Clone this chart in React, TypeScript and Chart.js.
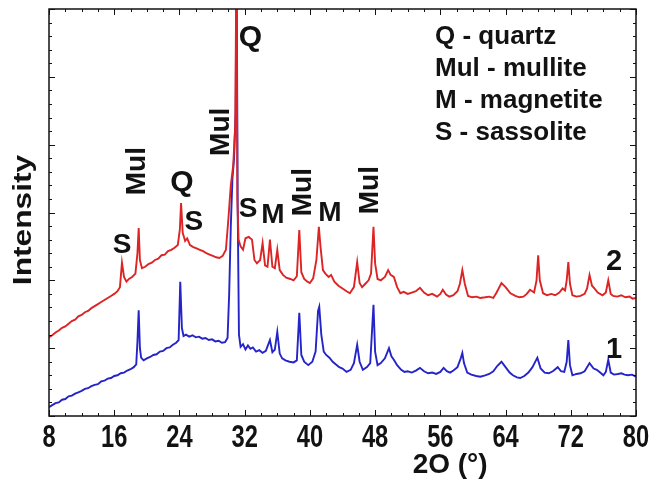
import React, { useEffect, useRef } from 'react';
import { Chart, registerables } from 'chart.js';

Chart.register(...registerables);

// ---- axis ticks ----
const X_TICKS = [8, 16, 24, 32, 40, 48, 56, 64, 72, 80];
const X_MINOR_STEP = 2;
const Y_MIN = 0;
const Y_MAX = 6;
const Y_MAJOR_STEP = 1;
const Y_MINOR_STEP = 0.2;

// ---- sample 1 (blue, lower trace): [2θ, intensity] ----
const SAMPLE_1: [number, number][] = [
  [8.0, 0.13], [8.4, 0.16], [8.8, 0.19], [9.2, 0.2], [9.6, 0.24], [10.0, 0.25], [10.4, 0.29], [10.8, 0.3],
  [11.2, 0.33], [11.6, 0.35], [12.0, 0.37], [12.4, 0.4], [12.8, 0.41], [13.2, 0.44], [13.6, 0.46], [14.0, 0.47],
  [14.4, 0.51], [14.8, 0.52], [15.2, 0.55], [15.6, 0.56], [16.0, 0.59], [16.4, 0.6], [16.8, 0.63], [17.2, 0.64],
  [17.6, 0.67], [18.0, 0.69], [18.4, 0.72], [18.7, 0.76], [18.85, 1.1], [19.0, 1.56], [19.15, 1.0], [19.3, 0.86],
  [19.6, 0.82], [20.0, 0.85], [20.4, 0.87], [20.8, 0.9], [21.2, 0.91], [21.6, 0.95], [22.0, 0.96], [22.4, 1.0],
  [22.8, 1.01], [23.2, 1.05], [23.6, 1.08], [23.9, 1.12], [24.1, 1.98], [24.3, 1.3], [24.5, 1.18], [24.8, 1.2],
  [25.2, 1.17], [25.6, 1.19], [26.0, 1.16], [26.4, 1.17], [26.8, 1.14], [27.2, 1.15], [27.6, 1.12], [28.0, 1.13],
  [28.4, 1.1], [28.8, 1.11], [29.2, 1.08], [29.6, 1.09], [29.9, 1.15], [30.1, 1.8], [30.3, 2.8], [30.5, 3.5],
  [30.7, 3.8], [30.9, 4.5], [31.0, 7.0], [31.15, 3.0], [31.3, 1.2], [31.5, 1.02], [31.8, 1.06], [32.1, 0.98],
  [32.4, 1.04], [32.7, 0.99], [33.0, 1.01], [33.4, 0.95], [33.8, 0.97], [34.2, 0.93], [34.6, 0.96], [35.1, 1.12],
  [35.4, 0.94], [35.7, 0.98], [36.0, 1.24], [36.3, 0.92], [36.6, 0.85], [37.0, 0.82], [37.5, 0.8], [38.0, 0.79],
  [38.4, 0.82], [38.7, 1.52], [38.95, 0.9], [39.3, 0.8], [39.8, 0.75], [40.3, 0.8], [40.7, 0.95], [41.0, 1.55],
  [41.15, 1.61], [41.4, 1.2], [41.7, 0.95], [42.0, 0.9], [42.4, 0.86], [42.8, 0.8], [43.2, 0.76], [43.6, 0.72],
  [44.0, 0.7], [44.5, 0.65], [45.0, 0.68], [45.4, 0.78], [45.8, 1.05], [46.1, 0.8], [46.5, 0.68], [47.0, 0.72],
  [47.4, 0.78], [47.8, 1.64], [48.0, 0.95], [48.3, 0.75], [48.7, 0.78], [49.2, 0.85], [49.7, 1.0], [50.0, 0.88],
  [50.3, 0.83], [50.7, 0.75], [51.2, 0.68], [51.6, 0.65], [52.0, 0.66], [52.5, 0.64], [53.0, 0.67], [53.5, 0.71],
  [54.0, 0.66], [54.5, 0.63], [55.0, 0.64], [55.5, 0.62], [56.0, 0.65], [56.4, 0.71], [56.8, 0.66], [57.2, 0.64],
  [57.6, 0.67], [58.1, 0.72], [58.5, 0.85], [58.7, 0.93], [58.9, 0.78], [59.3, 0.64], [59.8, 0.61], [60.4, 0.59],
  [60.9, 0.58], [61.5, 0.6], [62.0, 0.62], [62.5, 0.66], [63.0, 0.74], [63.5, 0.8], [64.0, 0.72], [64.5, 0.64],
  [64.9, 0.6], [65.4, 0.57], [65.8, 0.56], [66.3, 0.59], [66.8, 0.64], [67.3, 0.72], [67.9, 0.86], [68.3, 0.7],
  [68.8, 0.64], [69.3, 0.63], [69.8, 0.66], [70.4, 0.72], [70.8, 0.66], [71.2, 0.65], [71.5, 0.8], [71.7, 1.12],
  [71.9, 0.75], [72.2, 0.6], [72.7, 0.62], [73.2, 0.63], [73.7, 0.66], [74.3, 0.78], [74.8, 0.7], [75.2, 0.68],
  [75.6, 0.64], [76.0, 0.6], [76.3, 0.65], [76.6, 0.83], [76.9, 0.64], [77.3, 0.61], [77.8, 0.62], [78.2, 0.63],
  [78.6, 0.61], [79.0, 0.6], [79.5, 0.61], [80.0, 0.58],
];

// ---- sample 2 (red, upper trace): [2θ, intensity] ----
const SAMPLE_2: [number, number][] = [
  [8.0, 1.16], [8.4, 1.19], [8.8, 1.23], [9.2, 1.26], [9.6, 1.3], [10.0, 1.32], [10.4, 1.36], [10.8, 1.4],
  [11.2, 1.42], [11.6, 1.47], [12.0, 1.49], [12.4, 1.53], [12.8, 1.55], [13.2, 1.59], [13.6, 1.62], [14.0, 1.65],
  [14.4, 1.68], [14.8, 1.71], [15.2, 1.74], [15.6, 1.77], [16.0, 1.8], [16.4, 1.84], [16.7, 1.9], [16.95, 2.26],
  [17.2, 2.05], [17.5, 1.98], [17.8, 2.02], [18.2, 2.05], [18.6, 2.1], [18.85, 2.4], [19.0, 2.77], [19.15, 2.3],
  [19.4, 2.18], [19.8, 2.2], [20.2, 2.24], [20.6, 2.26], [21.0, 2.3], [21.4, 2.32], [21.8, 2.37], [22.2, 2.38],
  [22.6, 2.43], [23.0, 2.45], [23.4, 2.48], [23.8, 2.52], [24.05, 2.75], [24.2, 3.14], [24.4, 2.7], [24.7, 2.58],
  [24.95, 2.62], [25.3, 2.52], [25.7, 2.49], [26.1, 2.47], [26.5, 2.45], [26.9, 2.43], [27.3, 2.4], [27.7, 2.38],
  [28.1, 2.36], [28.5, 2.34], [28.9, 2.33], [29.3, 2.36], [29.7, 2.45], [30.0, 2.9], [30.3, 3.4], [30.6, 3.7],
  [30.85, 4.3], [31.0, 7.0], [31.1, 3.2], [31.25, 2.6], [31.5, 2.5], [31.8, 2.45], [32.1, 2.62], [32.5, 2.64],
  [32.9, 2.6], [33.2, 2.3], [33.5, 2.25], [33.9, 2.3], [34.2, 2.55], [34.5, 2.22], [34.8, 2.2], [35.1, 2.6],
  [35.4, 2.2], [35.7, 2.18], [36.0, 2.45], [36.3, 2.15], [36.7, 2.08], [37.1, 2.04], [37.6, 2.02], [38.0, 2.0],
  [38.4, 2.06], [38.7, 2.74], [38.95, 2.12], [39.3, 2.02], [39.7, 1.98], [40.0, 1.96], [40.4, 2.03], [40.8, 2.3],
  [41.1, 2.79], [41.3, 2.5], [41.6, 2.15], [41.9, 2.1], [42.3, 2.05], [42.6, 2.08], [43.0, 1.98], [43.5, 1.92],
  [44.0, 1.88], [44.5, 1.84], [44.9, 1.81], [45.4, 1.9], [45.8, 2.27], [46.1, 1.96], [46.4, 1.9], [46.8, 1.95],
  [47.2, 2.0], [47.5, 2.1], [47.8, 2.79], [48.0, 2.25], [48.3, 2.02], [48.7, 2.0], [49.2, 2.05], [49.6, 2.15],
  [49.9, 2.08], [50.3, 2.05], [50.7, 1.9], [51.1, 1.81], [51.5, 1.83], [52.0, 1.8], [52.5, 1.82], [53.0, 1.84],
  [53.5, 1.89], [54.0, 1.82], [54.5, 1.78], [55.0, 1.8], [55.6, 1.76], [56.0, 1.8], [56.3, 1.86], [56.7, 1.79],
  [57.1, 1.76], [57.6, 1.78], [58.1, 1.84], [58.4, 1.95], [58.7, 2.15], [59.0, 1.95], [59.4, 1.77], [59.9, 1.75],
  [60.4, 1.76], [60.9, 1.74], [61.5, 1.75], [62.0, 1.76], [62.5, 1.74], [62.9, 1.82], [63.5, 1.96], [64.0, 1.9],
  [64.6, 1.81], [65.2, 1.77], [65.7, 1.75], [66.2, 1.76], [66.6, 1.8], [67.0, 1.86], [67.5, 1.82], [67.8, 2.0],
  [68.0, 2.37], [68.2, 2.0], [68.6, 1.81], [69.1, 1.78], [69.6, 1.8], [70.1, 1.78], [70.6, 1.82], [71.0, 1.88],
  [71.3, 1.85], [71.5, 2.0], [71.7, 2.27], [71.9, 1.95], [72.2, 1.78], [72.7, 1.76], [73.2, 1.77], [73.7, 1.8],
  [74.0, 1.88], [74.3, 2.08], [74.6, 1.92], [74.9, 1.88], [75.3, 1.82], [75.9, 1.78], [76.3, 1.82], [76.6, 2.0],
  [76.9, 1.8], [77.2, 1.77], [77.7, 1.76], [78.2, 1.78], [78.7, 1.75], [79.2, 1.76], [79.6, 1.73], [80.0, 1.74],
];

// ---- peak annotations ----
const PEAK_LABELS = ['S', 'Mul', 'Q', 'S', 'Mul', 'Q', 'S', 'M', 'Mul', 'M', 'Mul'];
const PEAK_LABEL_X = [16.95, 18.79, 24.31, 25.78, 29.16, 32.71, 32.41, 35.47, 39.15, 42.47, 47.37];
const PEAK_LABEL_Y = [2.51, 3.61, 3.44, 2.85, 4.19, 5.58, 3.05, 2.96, 3.3, 2.99, 3.33];
const PEAK_LABEL_VERTICAL = [false, true, false, false, true, false, false, false, true, false, true];

// ---- phase key ----
const PHASE_KEY = ['Q - quartz', 'Mul - mullite', 'M - magnetite', 'S - sassolite'];
const PHASE_KEY_X = 55.35;
const PHASE_KEY_Y = [5.59, 5.12, 4.65, 4.18];

// ---- curve numbers ----
const CURVE_NAMES = ['1', '2'];
const CURVE_NAME_X = [77.3, 77.3];
const CURVE_NAME_Y = [0.97, 2.27];

// ---- axis titles ----
const X_TITLE = '2O (\u00B0)';
const X_TITLE_POS: [number, number] = [57.2, -0.72];
const Y_TITLE = 'Intensity';
const Y_TITLE_POS: [number, number] = [4.93, 2.89];

const FAMILY = '"Liberation Sans", Arial, Helvetica, sans-serif';
const INK = '#121212';

const decorPlugin = {
  id: 'xrdDecor',
  afterDraw(chart: any) {
    const { ctx, chartArea: a } = chart;
    const xs = chart.scales.x;
    const ys = chart.scales.y;
    ctx.save();

    // frame
    ctx.strokeStyle = INK;
    ctx.lineWidth = 1.5;
    ctx.strokeRect(a.left, a.top, a.right - a.left, a.bottom - a.top);

    // inward ticks
    ctx.lineWidth = 1;
    const seg = (x1: number, y1: number, x2: number, y2: number) => {
      ctx.beginPath();
      ctx.moveTo(x1, y1);
      ctx.lineTo(x2, y2);
      ctx.stroke();
    };
    const xMin = X_TICKS[0];
    const xMax = X_TICKS[X_TICKS.length - 1];
    const nx = Math.round((xMax - xMin) / X_MINOR_STEP);
    for (let i = 0; i <= nx; i++) {
      const v = xMin + i * X_MINOR_STEP;
      const px = Math.round(xs.getPixelForValue(v)) + 0.5;
      const len = X_TICKS.includes(v) ? 6 : 3;
      seg(px, a.bottom, px, a.bottom - len);
      seg(px, a.top, px, a.top + len);
    }
    const ny = Math.round((Y_MAX - Y_MIN) / Y_MINOR_STEP);
    const perMajor = Math.round(Y_MAJOR_STEP / Y_MINOR_STEP);
    for (let i = 0; i <= ny; i++) {
      const v = Y_MIN + i * Y_MINOR_STEP;
      const py = Math.round(ys.getPixelForValue(v)) + 0.5;
      const len = i % perMajor === 0 ? 6 : 3;
      seg(a.left, py, a.left + len, py);
      seg(a.right, py, a.right - len, py);
    }

    ctx.fillStyle = INK;
    ctx.textAlign = 'center';
    ctx.textBaseline = 'middle';

    // x tick labels (tall, condensed bold digits), taken from the scale's ticks
    ctx.font = `bold 32px ${FAMILY}`;
    xs.ticks.forEach((t: any) => {
      ctx.save();
      ctx.translate(xs.getPixelForValue(t.value), a.bottom + 22);
      ctx.scale(0.74, 1);
      ctx.fillText(String(t.value), 0, 0);
      ctx.restore();
    });

    // peak labels
    PEAK_LABELS.forEach((t, i) => {
      const px = xs.getPixelForValue(PEAK_LABEL_X[i]);
      const py = ys.getPixelForValue(PEAK_LABEL_Y[i]);
      ctx.font = `bold ${t === 'Q' ? 30 : 28}px ${FAMILY}`;
      if (PEAK_LABEL_VERTICAL[i]) {
        ctx.save();
        ctx.translate(px, py);
        ctx.rotate(-Math.PI / 2);
        ctx.fillText(t, 0, 0);
        ctx.restore();
      } else {
        ctx.fillText(t, px, py);
      }
    });

    // curve numbers
    ctx.font = `bold 29px ${FAMILY}`;
    CURVE_NAMES.forEach((t, i) => {
      ctx.fillText(t, xs.getPixelForValue(CURVE_NAME_X[i]), ys.getPixelForValue(CURVE_NAME_Y[i]));
    });

    // phase key
    ctx.textAlign = 'left';
    ctx.font = `bold 26px ${FAMILY}`;
    PHASE_KEY.forEach((t, i) => {
      ctx.fillText(t, xs.getPixelForValue(PHASE_KEY_X), ys.getPixelForValue(PHASE_KEY_Y[i]));
    });

    // axis titles
    ctx.textAlign = 'center';
    ctx.font = `bold 28px ${FAMILY}`;
    ctx.fillText(X_TITLE, xs.getPixelForValue(X_TITLE_POS[0]), ys.getPixelForValue(X_TITLE_POS[1]));
    ctx.save();
    ctx.translate(xs.getPixelForValue(Y_TITLE_POS[0]), ys.getPixelForValue(Y_TITLE_POS[1]));
    ctx.rotate(-Math.PI / 2);
    ctx.scale(1.22, 1);
    ctx.font = `bold 26px ${FAMILY}`;
    ctx.fillText(Y_TITLE, 0, 0);
    ctx.restore();

    ctx.restore();
  },
};

export default function App() {
  const canvasRef = useRef<HTMLCanvasElement | null>(null);

  useEffect(() => {
    if (!canvasRef.current) return;
    const chart = new Chart(canvasRef.current, {
      type: 'line',
      data: {
        datasets: [
          {
            label: '2',
            data: SAMPLE_2.map(([x, y]) => ({ x, y })),
            borderColor: '#dc2424',
            borderWidth: 1.9,
            pointRadius: 0,
            tension: 0,
          },
          {
            label: '1',
            data: SAMPLE_1.map(([x, y]) => ({ x, y })),
            borderColor: '#2424c8',
            borderWidth: 1.9,
            pointRadius: 0,
            tension: 0,
          },
        ],
      },
      options: {
        animation: false,
        responsive: true,
        maintainAspectRatio: false,
        layout: { padding: { left: 0, top: 1, right: 22, bottom: 0 } },
        plugins: {
          legend: { display: false },
          tooltip: { enabled: false },
          title: { display: false },
        },
        scales: {
          x: {
            type: 'linear',
            min: X_TICKS[0],
            max: X_TICKS[X_TICKS.length - 1],
            afterBuildTicks: (scale: any) => {
              scale.ticks = X_TICKS.map((v) => ({ value: v }));
            },
            ticks: { display: false },
            grid: { display: false, drawTicks: false },
            border: { display: false },
            afterFit: (scale: any) => {
              scale.height = 64;
            },
          },
          y: {
            type: 'linear',
            min: Y_MIN,
            max: Y_MAX,
            ticks: { display: false, stepSize: Y_MAJOR_STEP },
            grid: { display: false, drawTicks: false },
            border: { display: false },
            afterFit: (scale: any) => {
              scale.width = 41;
            },
          },
        },
      },
      plugins: [decorPlugin],
    });
    return () => chart.destroy();
  }, []);

  return (
    <div style={{ position: 'relative', width: 650, height: 472 }}>
      <canvas ref={canvasRef} />
    </div>
  );
}
